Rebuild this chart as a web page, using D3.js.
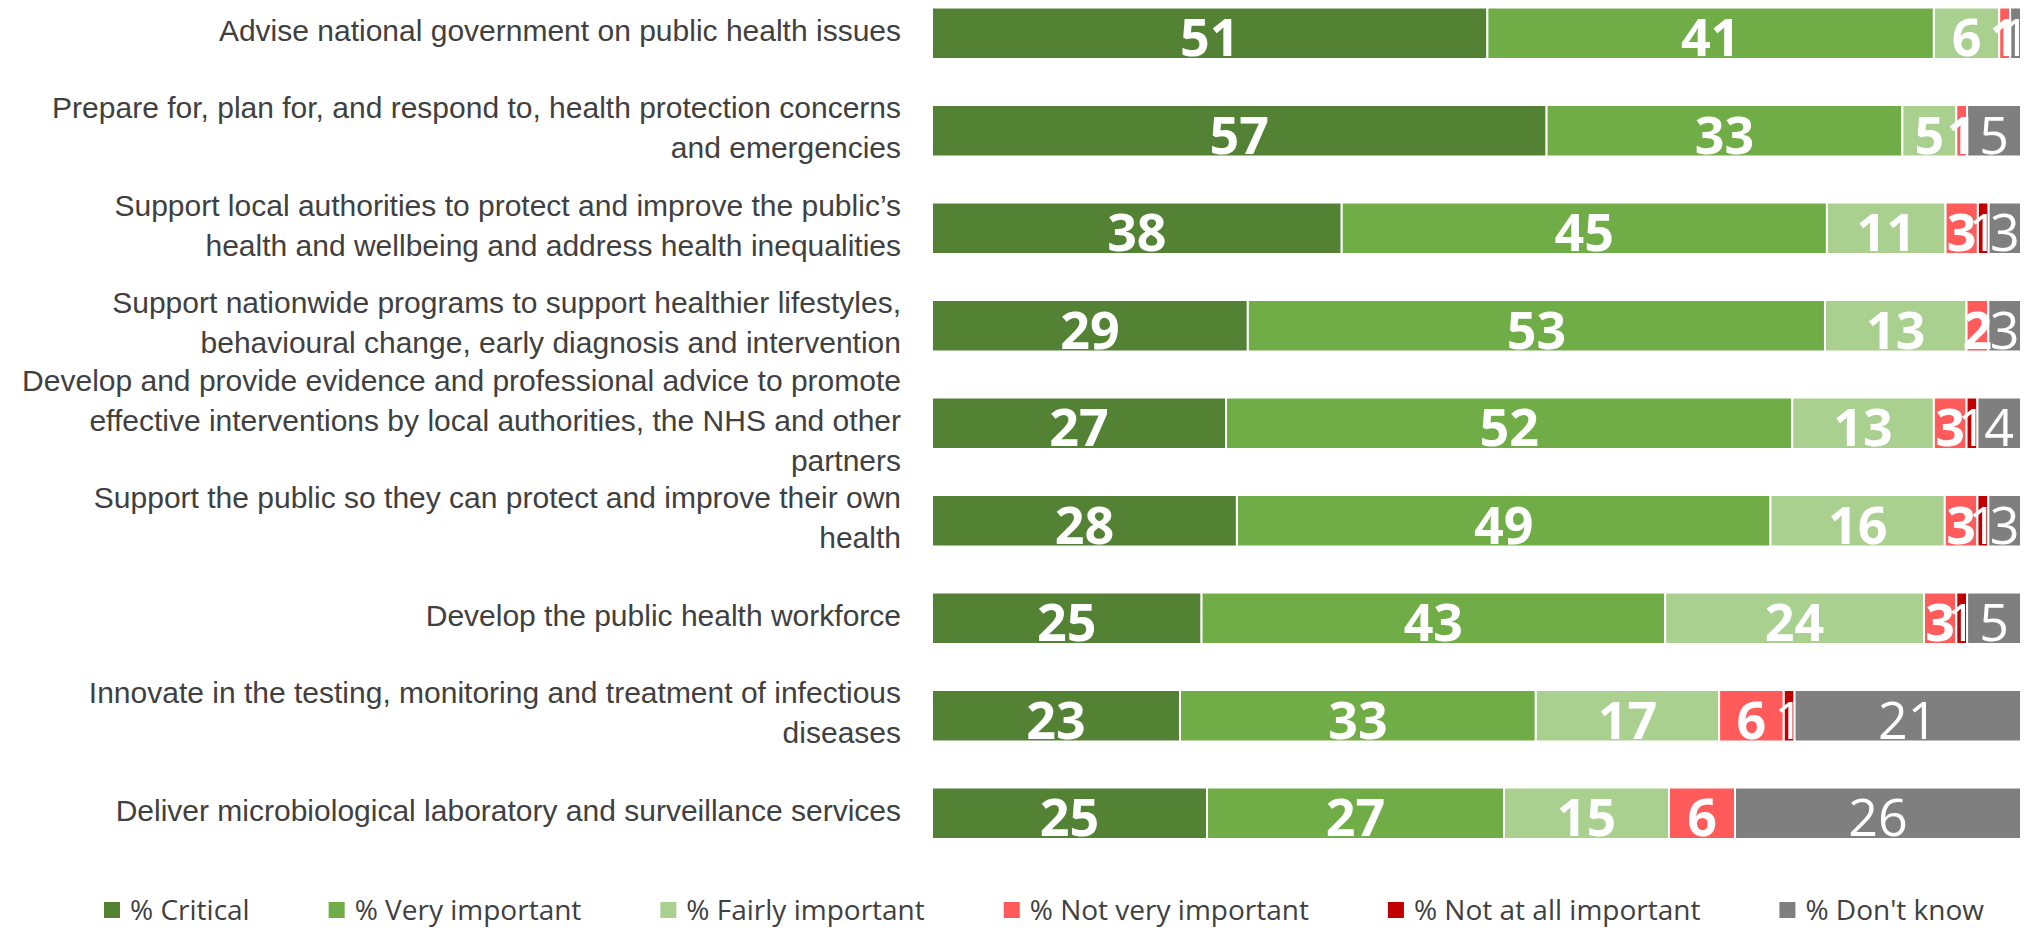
<!DOCTYPE html>
<html>
<head>
  <meta charset="utf-8">
  <title>Importance of functions</title>
  <style>
    body {
      margin: 0;
      padding: 0;
      background: #ffffff;
      font-family: 'Open Sans', sans-serif;
    }
    .cat text {
      fill: #404040;
      font-size: 30px;
      font-weight: 300;
    }
    .val {
      fill: #ffffff;
      font-size: 52px;
      text-anchor: middle;
    }
    .legend text {
      fill: #404040;
      font-size: 28px;
    }
  </style>
</head>
<body>
  <div id="chart"></div>

  <script src="https://d3js.org/d3.v7.min.js"></script>
  <script>

  // category labels (line breaks as in the original)
  var categories = [
    "Advise national government on public health issues",
    "Prepare for, plan for, and respond to, health protection concerns\nand emergencies",
    "Support local authorities to protect and improve the public\u2019s\nhealth and wellbeing and address health inequalities",
    "Support nationwide programs to support healthier lifestyles,\nbehavioural change, early diagnosis and intervention",
    "Develop and provide evidence and professional advice to promote\neffective interventions by local authorities, the NHS and other\npartners",
    "Support the public so they can protect and improve their own\nhealth",
    "Develop the public health workforce",
    "Innovate in the testing, monitoring and treatment of infectious\ndiseases",
    "Deliver microbiological laboratory and surveillance services"
  ]

  var seriesNames = ["% Critical", "% Very important", "% Fairly important",
                     "% Not very important", "% Not at all important", "% Don't know"]
  var seriesColors = ["#548235", "#70ad47", "#a9d08e", "#ff5b5b", "#c00000", "#7f7f7f"]

  var critical          = [51, 57, 38, 29, 27, 28, 25, 23, 25]
  var veryImportant     = [41, 33, 45, 53, 52, 49, 43, 33, 27]
  var fairlyImportant   = [6, 5, 11, 13, 13, 16, 24, 17, 15]
  var notVeryImportant  = [1, 1, 3, 2, 3, 3, 3, 6, 6]
  var notAtAllImportant = [0, 0, 1, 0, 1, 1, 1, 1, 0]
  var dontKnow          = [1, 5, 3, 3, 4, 3, 5, 21, 26]

  var series = [critical, veryImportant, fairlyImportant, notVeryImportant, notAtAllImportant, dontKnow]

  var width = 2034,
      height = 930

  var svg = d3.select("#chart")
    .append("svg")
    .attr("width", width)
    .attr("height", height)

  // 100% stacked: each row is normalised by its total
  var rows = categories.map(function (c, i) {
    var total = d3.sum(series, function (s) { return s[i] })
    var x0 = 0
    return series.map(function (s, k) {
      var seg = { cat: c, k: k, value: s[i], start: x0 / total, end: (x0 + s[i]) / total }
      x0 += s[i]
      return seg
    })
  })

  var x = d3.scaleLinear().domain([0, 1]).range([932, 2021])

  var y = d3.scaleBand()
    .domain(categories)
    .range([-15.5, 862])
    .paddingInner(0.472)
    .paddingOuter(0.236)

  // category axis
  var axis = svg.append("g")
    .attr("class", "cat")
    .attr("transform", "translate(" + x(0) + ",0)")
    .call(d3.axisLeft(y).tickSize(0).tickPadding(31))

  axis.select(".domain").remove()

  axis.selectAll(".tick text")
    .each(function (d) {
      var lines = d.split("\n")
      var t = d3.select(this).text(null).attr("dy", null)
      var lh = 40
      lines.forEach(function (line, j) {
        t.append("tspan")
          .attr("x", -31)
          .attr("y", (j - (lines.length - 1) / 2) * lh - 3)
          .attr("dy", "0.35em")
          .text(line)
      })
    })

  // bars
  var rowG = svg.append("g")
    .selectAll("g")
    .data(rows)
    .enter().append("g")

  rowG.selectAll("rect")
    .data(function (d) { return d.filter(function (s) { return s.value > 0 }) })
    .enter().append("rect")
    .attr("x", function (d) { return x(d.start) })
    .attr("y", function (d) { return y(d.cat) })
    .attr("width", function (d) { return x(d.end) - x(d.start) })
    .attr("height", y.bandwidth())
    .attr("fill", function (d) { return seriesColors[d.k] })
    .attr("stroke", "#ffffff")
    .attr("stroke-width", 2)

  // value labels
  rowG.selectAll("text")
    .data(function (d) { return d.filter(function (s) { return s.value > 0 }) })
    .enter().append("text")
    .attr("class", "val")
    .attr("x", function (d) { return (x(d.start) + x(d.end)) / 2 })
    .attr("y", function (d) { return y(d.cat) + y.bandwidth() / 2 + 23 })
    .style("font-weight", function (d) { return d.k < 4 ? 700 : 400 })
    .text(function (d) { return d.value })

  // legend
  var legend = svg.append("g")
    .attr("class", "legend")

  var items = legend.selectAll("g")
    .data(seriesNames)
    .enter().append("g")

  items.append("rect")
    .attr("width", 16)
    .attr("height", 16)
    .attr("y", 902)
    .attr("fill", function (d, i) { return seriesColors[i] })

  items.append("text")
    .attr("x", 26)
    .attr("y", 910)
    .attr("dy", "0.35em")
    .text(function (d) { return d })

  // lay legend items out side by side, centred
  var pos = 0, offsets = []
  items.each(function () {
    offsets.push(pos)
    pos += 26 + this.querySelector("text").getComputedTextLength() + 79
  })
  var legendW = pos - 79
  var start = 1044 - legendW / 2
  items.attr("transform", function (d, i) { return "translate(" + (start + offsets[i]) + ",0)" })

  </script>
</body>
</html>
